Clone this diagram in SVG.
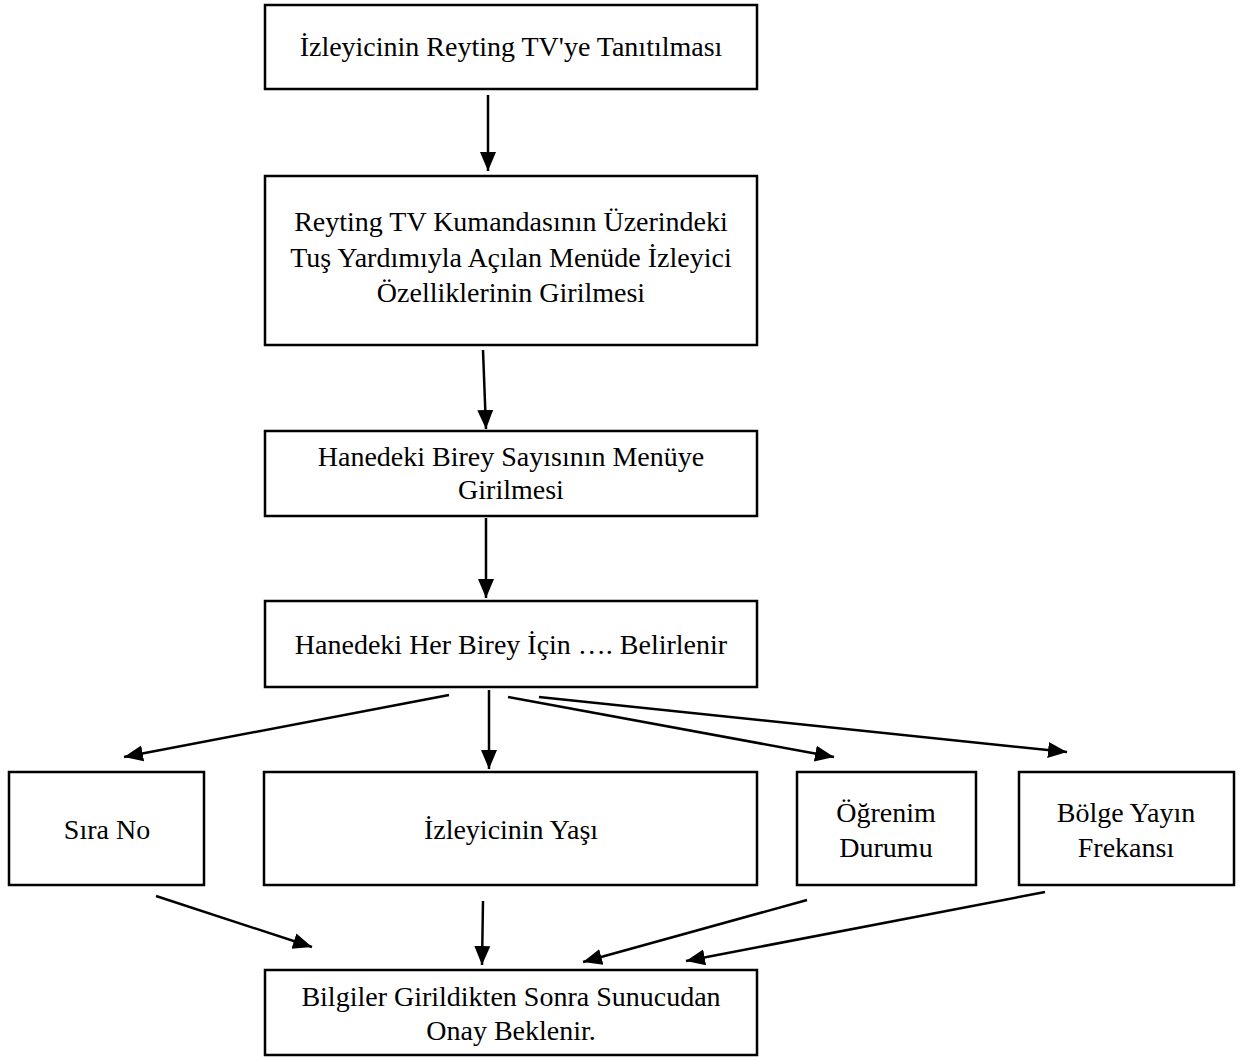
<svg xmlns="http://www.w3.org/2000/svg" width="1242" height="1057" viewBox="0 0 1242 1057">
<defs>
<style>
.box{fill:#fff;stroke:#000;stroke-width:2.5}
.t{font-family:"Liberation Serif","Times New Roman",serif;font-size:28px;fill:#000;text-anchor:middle}
.c{stroke:#000;stroke-width:2.5;fill:none;marker-end:url(#ah)}
</style>
<marker id="ah" markerUnits="userSpaceOnUse" markerWidth="20" markerHeight="18" refX="19" refY="9" orient="auto">
<path d="M0,1 L19,9 L0,17 z" fill="#000"/>
</marker>
</defs>
<rect width="1242" height="1057" fill="#fff"/>
<g id="connectors">
<path class="c" d="M488,95 L488,171"/>
<path class="c" d="M483,350 L486,429"/>
<path class="c" d="M486,518 L486,598"/>
<path class="c" d="M449,695 L124,757"/>
<path class="c" d="M489,690 L489,769"/>
<path class="c" d="M508,697 L834,757"/>
<path class="c" d="M539,697 L1067,752"/>
<path class="c" d="M156,896 L312,947"/>
<path class="c" d="M483,901 L482,965"/>
<path class="c" d="M807,900 L583,962"/>
<path class="c" d="M1045,892 L686,961"/>
</g>
<g id="n1"><rect class="box" x="265" y="5" width="492" height="84"/><text class="t" x="511" y="56">İzleyicinin Reyting TV'ye Tanıtılması</text></g>
<g id="n2"><rect class="box" x="265" y="176" width="492" height="169"/>
<text class="t" x="511" y="231">Reyting TV Kumandasının Üzerindeki</text>
<text class="t" x="511" y="267">Tuş Yardımıyla Açılan Menüde İzleyici</text>
<text class="t" x="511" y="302">Özelliklerinin Girilmesi</text></g>
<g id="n3"><rect class="box" x="265" y="431" width="492" height="85"/>
<text class="t" x="511" y="466">Hanedeki Birey Sayısının Menüye</text>
<text class="t" x="511" y="499">Girilmesi</text></g>
<g id="n4"><rect class="box" x="265" y="601" width="492" height="86"/>
<text class="t" x="511" y="654">Hanedeki Her Birey İçin …. Belirlenir</text></g>
<g id="n5"><rect class="box" x="9" y="772" width="195" height="113"/>
<text class="t" x="107" y="839">Sıra No</text></g>
<g id="n6"><rect class="box" x="264" y="772" width="493" height="113"/>
<text class="t" x="511" y="839">İzleyicinin Yaşı</text></g>
<g id="n7"><rect class="box" x="797" y="772" width="179" height="113"/>
<text class="t" x="886" y="822">Öğrenim</text>
<text class="t" x="886" y="857">Durumu</text></g>
<g id="n8"><rect class="box" x="1019" y="772" width="215" height="113"/>
<text class="t" x="1126" y="822">Bölge Yayın</text>
<text class="t" x="1126" y="857">Frekansı</text></g>
<g id="n9"><rect class="box" x="265" y="970" width="492" height="85"/>
<text class="t" x="511" y="1006">Bilgiler Girildikten Sonra Sunucudan</text>
<text class="t" x="511" y="1040">Onay Beklenir.</text></g>
</svg>
